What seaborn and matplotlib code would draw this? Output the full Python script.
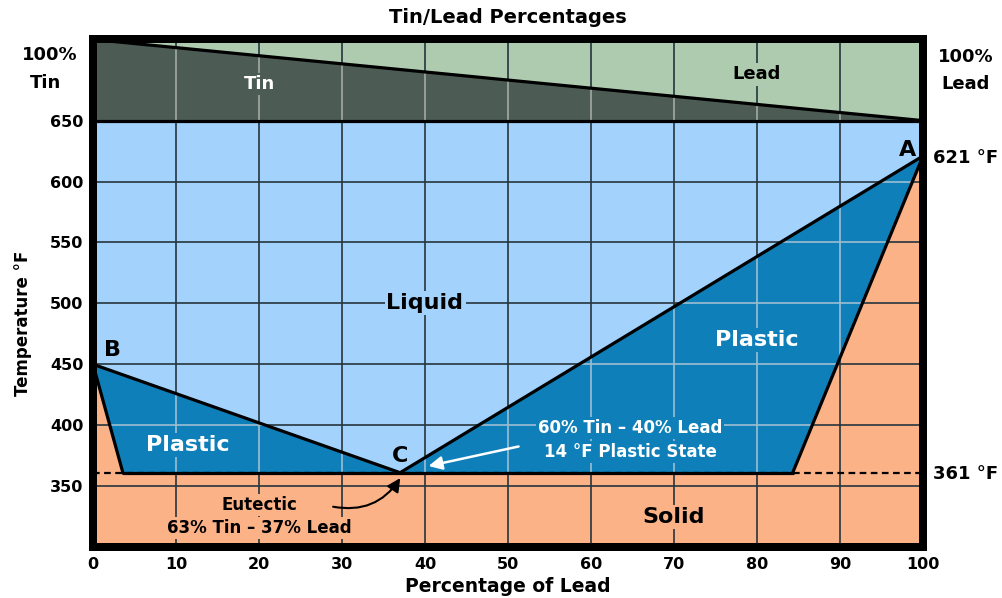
import matplotlib.pyplot as plt
import seaborn as sns

sns.set_style("white")
plt.rcParams["font.family"] = ["DejaVu Sans"]
plt.rcParams["font.weight"] = "bold"
plt.rcParams["text.color"] = "black"
plt.rcParams["axes.labelcolor"] = "black"
plt.rcParams["xtick.color"] = "black"
plt.rcParams["ytick.color"] = "black"

# phase boundaries: percentage of lead vs temperature (deg F)
liquidus_pb = [0, 37, 100]
liquidus_t = [450, 361, 621]
solidus_left_pb = [0, 3.6]
solidus_left_t = [450, 361]
solidus_right_pb = [84.3, 100]
solidus_right_t = [361, 621]
eutectic_t = 361
band_lo, band_hi = 650, 716.6
t_min = 300
x_ticks = list(range(0, 101, 10))
y_ticks = list(range(350, 651, 50))

c_liquid = "#a3d3fc"
c_plastic = "#0f7fb9"
c_solid = "#fcb287"
c_tin = "#4d5b55"
c_lead = "#aecbb0"
c_grid = "#26343d"
c_grid_plastic = "#9dbdd0"
c_grid_tin = "#a3aaa7"

fig = plt.figure(figsize=(10.03, 5.98), dpi=100)
ax = fig.add_axes([93 / 1003, 51 / 598, 830 / 1003, 507.5 / 598])
ax.set_xlim(0, 100)
ax.set_ylim(t_min, band_hi)

# base regions
ax.fill([0, 100, 100, 0], [t_min, t_min, band_lo, band_lo], color=c_solid, lw=0, zorder=1)
ax.fill([0] + liquidus_pb + [100], [band_lo] + liquidus_t + [band_lo],
        color=c_liquid, lw=0, zorder=1)
ax.fill([0, 100, 100], [band_hi, band_hi, band_lo], color=c_lead, lw=0, zorder=1)

# dark grid
ax.vlines(x_ticks[1:-1], t_min, band_hi, color=c_grid, lw=1.2, zorder=2)
ax.hlines(y_ticks[:-1], 0, 100, color=c_grid, lw=1.2, zorder=2)

# plastic regions + tin triangle on top, with light grid clipped inside
left_plastic = ax.fill([liquidus_pb[0], liquidus_pb[1], solidus_left_pb[1]],
                       [liquidus_t[0], liquidus_t[1], solidus_left_t[1]],
                       color=c_plastic, lw=0, zorder=3)[0]
right_plastic = ax.fill([liquidus_pb[1], liquidus_pb[2], solidus_right_pb[0]],
                        [liquidus_t[1], liquidus_t[2], solidus_right_t[0]],
                        color=c_plastic, lw=0, zorder=3)[0]
tin = ax.fill([0, 100, 0], [band_hi, band_lo, band_lo], color=c_tin, lw=0, zorder=3)[0]

for patch in (left_plastic, right_plastic):
    v = ax.vlines(x_ticks[1:-1], t_min, band_lo, color=c_grid_plastic, lw=1.2, zorder=4)
    h = ax.hlines(y_ticks[:-1], 0, 100, color=c_grid_plastic, lw=1.2, zorder=4)
    v.set_clip_path(patch)
    h.set_clip_path(patch)
v = ax.vlines(x_ticks[1:-1], band_lo, band_hi, color=c_grid_tin, lw=1.2, zorder=4)
v.set_clip_path(tin)

# boundary lines
ax.hlines(eutectic_t, 0, 100, color="black", lw=1.6, ls=(0, (3, 2)), zorder=5)
line_kw = dict(color="black", lw=2.3, sort=False, estimator=None, zorder=6, ax=ax)
sns.lineplot(x=liquidus_pb, y=liquidus_t, **line_kw)
sns.lineplot(x=solidus_left_pb, y=solidus_left_t, **line_kw)
sns.lineplot(x=solidus_right_pb, y=solidus_right_t, **line_kw)
sns.lineplot(x=[solidus_left_pb[1], solidus_right_pb[0]], y=[eutectic_t, eutectic_t], **line_kw)
sns.lineplot(x=[0, 100], y=[band_hi, band_lo], **line_kw)
sns.lineplot(x=[0, 100], y=[band_lo, band_lo], **line_kw)

# labels inside the chart
def label(x, y, s, size, color="black", bg=None, **kw):
    box = dict(facecolor=bg, edgecolor="none", pad=1.5) if bg else None
    ax.text(x, y, s, fontsize=size, color=color, ha="center", va="center",
            fontweight="bold", bbox=box, zorder=8, **kw)

label(20, 680, "Tin", 13, "white", c_tin)
label(80, 688, "Lead", 13, "black", c_lead)
label(40, 500, "Liquid", 16, "black", c_liquid)
label(80, 470, "Plastic", 16, "white", c_plastic)
label(11.4, 384, "Plastic", 16, "white", c_plastic)
label(69.9, 325, "Solid", 16, "black", c_solid)
label(64.7, 397.5, "60% Tin – 40% Lead", 12, "white", c_plastic)
label(64.7, 378, "14 °F Plastic State", 12, "white", c_plastic)
label(20, 334.5, "Eutectic", 12, "black", c_solid)
label(20, 315.5, "63% Tin – 37% Lead", 12, "black", c_solid)
label(98.1, 626, "A", 16)
label(2.3, 461.5, "B", 16)
label(37, 374.5, "C", 16)

# outside annotations
for x, y, s in [(-5.2, 704, "100%"), (-5.7, 681, "Tin"),
                (105.1, 702.5, "100%"), (105.1, 680, "Lead"),
                (105.1, 619.5, "621 °F"), (105.1, 360, "361 °F")]:
    ax.text(x, y, s, fontsize=13, ha="center", va="center", fontweight="bold", clip_on=False)

ax.annotate("", xy=(40.1, 366), xytext=(51.6, 383),
            arrowprops=dict(arrowstyle="-|>", color="white", lw=1.8, mutation_scale=20),
            zorder=9)
ax.annotate("", xy=(37.2, 358.5), xytext=(28.6, 333.5),
            arrowprops=dict(arrowstyle="-|>", color="black", lw=1.5, mutation_scale=20,
                            connectionstyle="arc3,rad=0.35"),
            zorder=9)

ax.set_xticks(x_ticks)
ax.set_yticks(y_ticks)
ax.tick_params(length=0, labelsize=11.5, pad=7)
ax.set_xlabel("Percentage of Lead", fontsize=13.5, fontweight="bold", labelpad=4)
ax.set_ylabel("Temperature °F", fontsize=12, fontweight="bold")
ax.yaxis.set_label_coords(-0.074, 0.44)
ax.set_title("Tin/Lead Percentages", fontsize=14, fontweight="bold", pad=12)

for s in ax.spines.values():
    s.set_linewidth(5.76)
    s.set_color("black")
    s.set_zorder(10)
    s.set_capstyle("projecting")

fig.savefig("out.png", dpi=100)
